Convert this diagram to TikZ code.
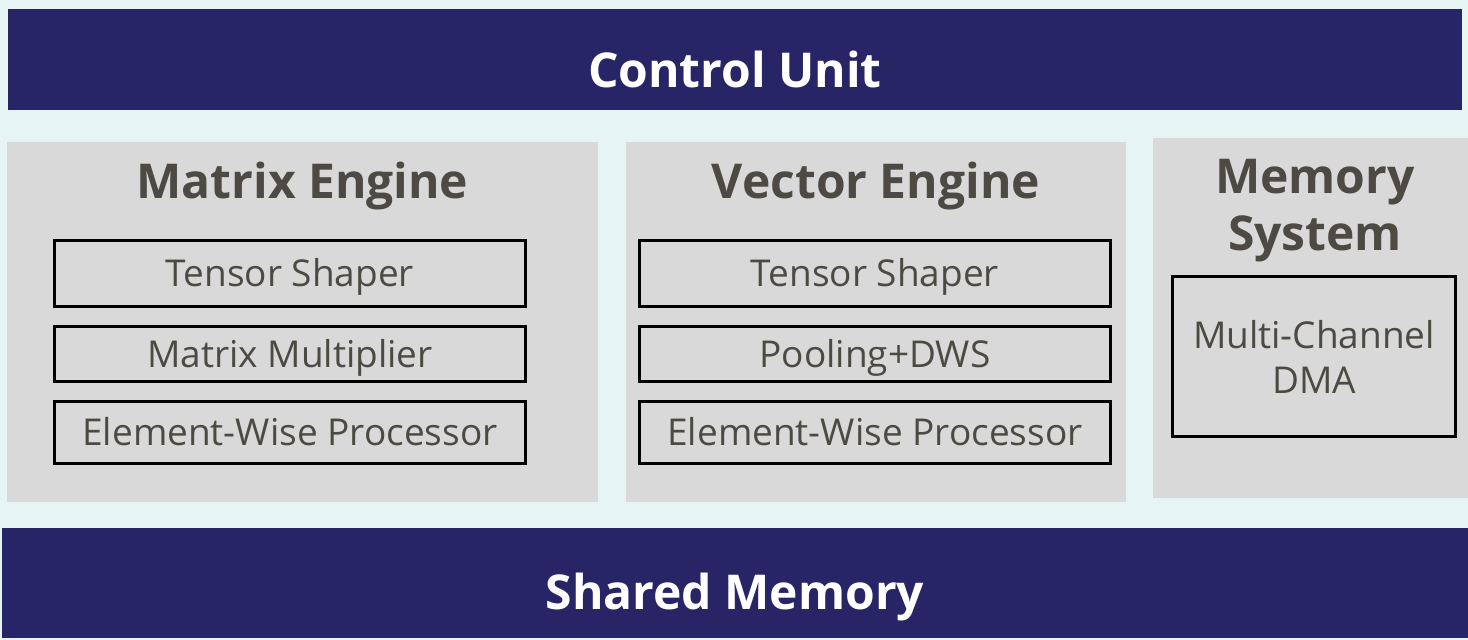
\documentclass[tikz,border=0pt]{standalone}
\usepackage{fontspec}
\setmainfont{Open Sans}
\usetikzlibrary{positioning}

\definecolor{navy}{HTML}{282566}
\definecolor{paper}{HTML}{E6F5F4}
\definecolor{panel}{HTML}{D9D9D9}
\definecolor{ink}{HTML}{4C4A42}

\tikzset{
  bar/.style={rectangle, fill=navy, text=white, font=\fontsize{48}{52}\selectfont\bfseries, inner sep=0pt, text depth=0pt},
  panelbox/.style={rectangle, fill=panel, inner sep=0pt},
  heading/.style={text=ink, font=\fontsize{48}{57}\selectfont\bfseries, align=center, inner sep=0pt},
  unit/.style={rectangle, draw=black, line width=2.6pt, text=ink, font=\fontsize{37}{45}\selectfont, align=center, inner sep=0pt},
  oneline/.style={text height=26pt, text depth=0pt}
}

\begin{document}
\begin{tikzpicture}[x=1pt, y=-1pt]
\useasboundingbox[fill=paper] (0,0) rectangle (1468,640);

% top and bottom bars
\node (control) at (735,59.5) [bar, text height=55pt, minimum width=1454pt, minimum height=101pt] {Control Unit};
\node (shared) at (735,583) [bar, text height=53pt, minimum width=1466pt, minimum height=110pt] {Shared Memory};

% the three engines
\node (matrix) at (302.5,322) [panelbox, minimum width=591pt, minimum height=360pt] {};
\node (vector) at (876,322) [panelbox, minimum width=500pt, minimum height=360pt] {};
\node (memory) at (1310.5,318) [panelbox, minimum width=315pt, minimum height=360pt] {};

\node (mtitle) at (302.5,186) [heading] {Matrix Engine};
\node (vtitle) at (876,186) [heading] {Vector Engine};
\node (stitle) at (1315,211) [heading] {Memory\\System};

\begin{scope}[every node/.style={unit, minimum width=471pt}]
    \node (mshaper) at (290,273.5) [oneline, minimum height=66pt] {Tensor Shaper};
    \node (mmult) at (290,354) [oneline, minimum height=55pt] {Matrix Multiplier};
    \node (melem) at (290,432.5) [oneline, minimum height=62pt] {Element-Wise Processor};

    \node (vshaper) at (875,273.5) [oneline, minimum height=66pt] {Tensor Shaper};
    \node (vpool) at (875,354) [oneline, minimum height=55pt] {Pooling+DWS};
    \node (velem) at (875,432.5) [oneline, minimum height=62pt] {Element-Wise Processor};

    \node (dma) at (1314,356.5) [minimum width=283pt, minimum height=160pt] {Multi-Channel\\DMA};
\end{scope}
\end{tikzpicture}
\end{document}
